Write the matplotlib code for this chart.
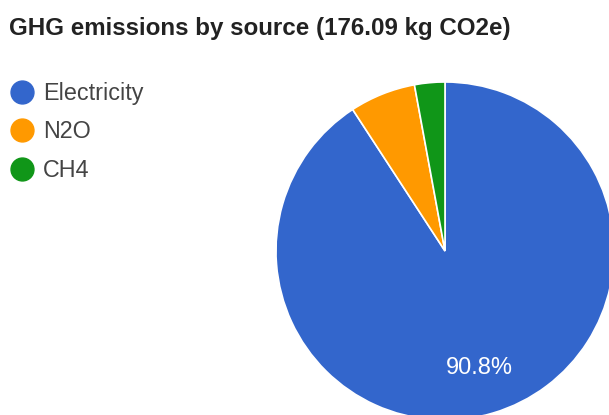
import matplotlib.pyplot as plt
from matplotlib.lines import Line2D

# GHG emissions by source, kg CO2e
sources = ["Electricity", "N2O", "CH4"]
emissions = [159.89, 11.10, 5.10]
colors = ["#3366cc", "#ff9900", "#109618"]

total = sum(emissions)

plt.rcParams['font.family'] = ['Liberation Sans', 'DejaVu Sans']

fig = plt.figure(figsize=(6.09, 4.15), dpi=100)
W, H = 609, 415

# pie centre and radius in pixels (from top-left)
cx, cy, r = 445, 251, 169
ax = fig.add_axes([(cx - r) / W, (H - cy - r) / H, 2 * r / W, 2 * r / H])

def pct(p):
    return "{:.1f}%".format(p) if p > 10 else ""

wedges, texts, autotexts = ax.pie(
    emissions, colors=colors, startangle=90, counterclock=False,
    autopct=pct, pctdistance=0.72,
    wedgeprops=dict(edgecolor="white", linewidth=1.2),
    textprops=dict(color="white", fontsize=17))
ax.set_xlim(-1, 1)
ax.set_ylim(-1, 1)
ax.set_aspect("equal")
ax.axis("off")

fig.text(9 / W, 1 - 28 / H, "GHG emissions by source ({:.2f} kg CO2e)".format(total),
         fontsize=17.4, fontweight="bold", color="#222222", va="center", ha="left")

handles = [Line2D([], [], marker="o", linestyle="", markersize=16.5,
                  markerfacecolor=c, markeredgecolor=c) for c in colors]
fig.legend(handles, sources, loc="upper left", bbox_to_anchor=(11 / W, 1 - 82 / H),
           frameon=False, fontsize=16.8, labelcolor="#444444", handletextpad=0.42,
           labelspacing=0.66, handlelength=0.95, borderpad=0, borderaxespad=0)

fig.savefig("out.png", dpi=100)
